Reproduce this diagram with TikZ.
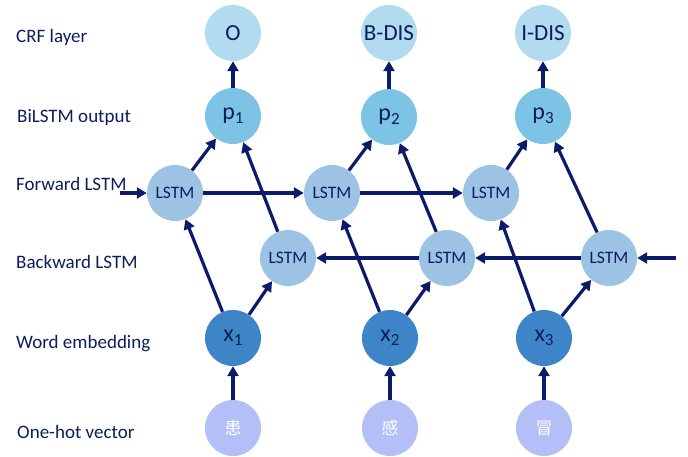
\documentclass[tikz,border=0pt]{standalone}
\usepackage{fontspec}
\setmainfont{Carlito}
\newfontfamily\cjk{Noto Sans CJK SC}
\usetikzlibrary{arrows.meta}
\definecolor{navy}{HTML}{0B1E5B}
\definecolor{arrowblue}{HTML}{0C1A6B}
\definecolor{crfcol}{HTML}{B3DBF0}
\definecolor{pcol}{HTML}{7DC3E5}
\definecolor{lstmcol}{HTML}{9DC3E4}
\definecolor{embcol}{HTML}{3D85C6}
\definecolor{hotcol}{HTML}{B4BFF7}
\newcommand{\sub}[2]{#1\raisebox{-0.35ex}{\fontsize{17}{17}\selectfont #2}}
\tikzset{
  unit/.style={circle, minimum size=56pt, inner sep=0pt, text=navy},
  crf/.style={unit, fill=crfcol, font=\fontsize{23}{23}\selectfont},
  outp/.style={unit, fill=pcol, font=\fontsize{24}{24}\selectfont},
  lstm/.style={unit, fill=lstmcol, font=\fontsize{17.5}{17.5}\selectfont},
  emb/.style={unit, fill=embcol, font=\fontsize{24}{24}\selectfont},
  hot/.style={unit, fill=hotcol, text=white, font=\cjk\fontsize{17}{17}\selectfont},
  rowlabel/.style={anchor=west, inner sep=0pt, text=navy, font=\fontsize{19}{19}\selectfont},
  conn/.style={draw=arrowblue, line width=3.2pt, -{Triangle[length=10pt,width=11pt]}},
}
\begin{document}
\begin{tikzpicture}[x=1pt, y=-1pt]
\useasboundingbox (0,0) rectangle (688,456);

% row labels
\node[rowlabel] (lcrf) at (16,37)  {CRF layer};
\node[rowlabel] (lout) at (17,117) {BiLSTM output};
\node[rowlabel] (lfw)  at (16,184) {Forward LSTM};
\node[rowlabel] (lbw)  at (16,262) {Backward LSTM};
\node[rowlabel] (lemb) at (16,344) {Word embedding};
\node[rowlabel] (lhot) at (17,432) {One-hot vector};

% CRF tags
\node[crf] (o1) at (233,33) {O};
\node[crf] (o2) at (389,33) {B-DIS};
\node[crf] (o3) at (543,33) {I-DIS};

% BiLSTM outputs
\node[outp] (p1) at (233,116) {\sub{p}{1}};
\node[outp] (p2) at (389,117) {\sub{p}{2}};
\node[outp] (p3) at (543,116) {\sub{p}{3}};

% forward cells
\node[lstm] (f1) at (175,193) {LSTM};
\node[lstm] (f2) at (332,193) {LSTM};
\node[lstm] (f3) at (491,193) {LSTM};

% backward cells
\node[lstm] (b1) at (288,258) {LSTM};
\node[lstm] (b2) at (447,258) {LSTM};
\node[lstm] (b3) at (609,258) {LSTM};

% embeddings
\node[emb] (x1) at (233,338) {\sub{x}{1}};
\node[emb] (x2) at (390,338) {\sub{x}{2}};
\node[emb] (x3) at (544,338) {\sub{x}{3}};

% one-hot inputs
\node[hot] (h1) at (233,428) {患};
\node[hot] (h2) at (390,428) {感};
\node[hot] (h3) at (544,428) {冒};

\coordinate (fin) at (120,193);
\coordinate (bin) at (676,258);

% per-token connections
\foreach \i in {1,2,3} {
  \draw[conn] (h\i) -- (x\i);
  \draw[conn] (x\i) -- (f\i);
  \draw[conn] (x\i) -- (b\i);
  \draw[conn] (f\i) -- (p\i);
  \draw[conn] (b\i) -- (p\i);
  \draw[conn] (p\i) -- (o\i);
}

% recurrent links
\draw[conn] (fin) -- (f1);
\draw[conn] (f1) -- (f2);
\draw[conn] (f2) -- (f3);
\draw[conn] (bin) -- (b3);
\draw[conn] (b3) -- (b2);
\draw[conn] (b2) -- (b1);
\end{tikzpicture}
\end{document}
